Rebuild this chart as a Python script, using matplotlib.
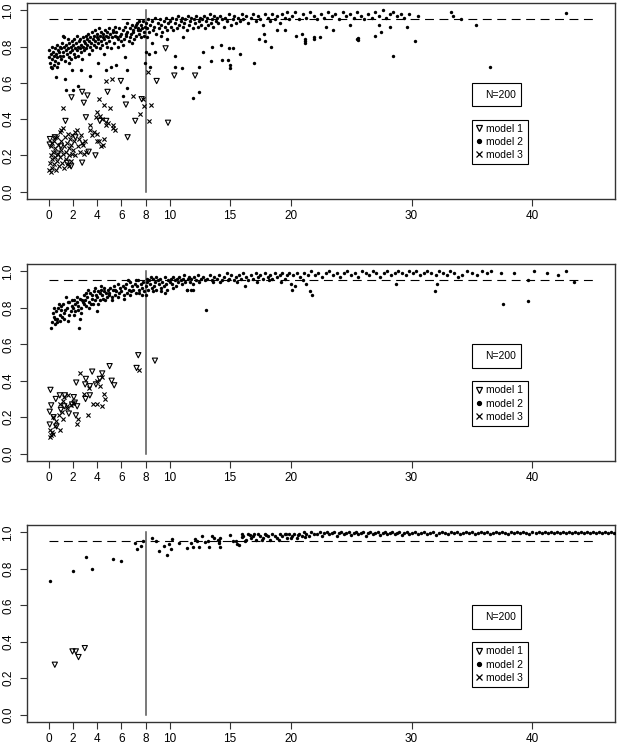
import matplotlib
matplotlib.use("Agg")
import matplotlib.pyplot as plt
from matplotlib.lines import Line2D
from matplotlib.patches import Rectangle
import numpy as np

plt.rcParams['font.family'] = ['Liberation Sans', 'DejaVu Sans']

# ---- data (x, y) ----
x_ticks = [0, 2, 4, 6, 8, 10, 15, 20, 30, 40]
y_ticks = [0.0, 0.2, 0.4, 0.6, 0.8, 1.0]
y_tick_labels = ["0.0", "0.2", "0.4", "0.6", "0.8", "1.0"]
legend_labels = ["model 1", "model 2", "model 3"]
n_label = "N=200"
target_level = 0.95
cutoff = 8

# panel 1
p1_model1 = [(0.08, 0.26), (0.1, 0.29), (0.5, 0.3), (1.0, 0.25), (1.5, 0.16), (1.85, 0.14),
             (1.38, 0.39), (1.88, 0.52), (2.76, 0.55), (3.2, 0.53), (2.9, 0.49), (3.07, 0.41),
             (2.76, 0.16), (3.86, 0.2), (4.22, 0.39), (4.86, 0.55), (4.75, 0.39), (5.96, 0.61),
             (6.38, 0.48), (6.52, 0.3), (7.15, 0.39), (7.68, 0.51), (8.92, 0.61), (9.86, 0.38),
             (10.38, 0.64), (12.1, 0.64), (9.66, 0.79), (3.3, 0.22), (2.2, 0.3), (0.7, 0.21)]

p1_model2 = [
    (0.0, 0.78), (0.05, 0.74), (0.1, 0.71), (0.15, 0.76), (0.2, 0.69), (0.25, 0.8), (0.3, 0.73),
    (0.35, 0.77), (0.4, 0.7), (0.45, 0.75), (0.5, 0.79), (0.55, 0.72), (0.6, 0.76), (0.65, 0.81),
    (0.7, 0.74), (0.75, 0.78), (0.8, 0.71), (0.85, 0.77), (0.9, 0.8), (0.95, 0.75), (0.3, 0.68),
    (0.7, 0.69),
    (1.0, 0.79), (1.05, 0.73), (1.1, 0.82), (1.15, 0.77), (1.2, 0.75), (1.25, 0.8), (1.3, 0.85),
    (1.35, 0.72), (1.4, 0.78), (1.45, 0.81), (1.5, 0.76), (1.55, 0.84), (1.6, 0.79), (1.65, 0.74),
    (1.7, 0.82), (1.75, 0.77), (1.8, 0.8), (1.85, 0.73), (1.9, 0.83), (1.95, 0.78), (1.2, 0.86),
    (1.7, 0.71),
    (2.0, 0.81), (2.05, 0.76), (2.1, 0.84), (2.15, 0.79), (2.2, 0.74), (2.25, 0.82), (2.3, 0.78),
    (2.35, 0.86), (2.4, 0.8), (2.45, 0.75), (2.5, 0.83), (2.55, 0.79), (2.6, 0.84), (2.65, 0.77),
    (2.7, 0.81), (2.75, 0.73), (2.8, 0.85), (2.85, 0.8), (2.9, 0.83), (2.95, 0.78),
    (3.0, 0.82), (3.05, 0.86), (3.1, 0.79), (3.15, 0.84), (3.2, 0.81), (3.25, 0.87), (3.3, 0.76),
    (3.35, 0.83), (3.4, 0.8), (3.45, 0.85), (3.5, 0.82), (3.55, 0.88), (3.6, 0.78), (3.65, 0.84),
    (3.7, 0.81), (3.75, 0.86), (3.8, 0.83), (3.85, 0.89), (3.9, 0.8), (3.95, 0.85),
    (4.0, 0.87), (4.05, 0.82), (4.1, 0.84), (4.15, 0.9), (4.2, 0.79), (4.25, 0.86), (4.3, 0.83),
    (4.35, 0.88), (4.4, 0.81), (4.45, 0.85), (4.5, 0.87), (4.55, 0.76), (4.6, 0.84), (4.65, 0.89),
    (4.7, 0.82), (4.75, 0.86), (4.8, 0.88), (4.85, 0.8), (4.9, 0.85), (4.95, 0.9),
    (5.0, 0.83), (5.1, 0.87), (5.2, 0.85), (5.3, 0.89), (5.4, 0.82), (5.5, 0.86), (5.6, 0.88),
    (5.7, 0.84), (5.8, 0.9), (5.9, 0.86), (5.15, 0.79), (5.45, 0.91), (5.75, 0.8), (5.95, 0.83),
    (5.35, 0.88), (5.65, 0.85),
    (6.0, 0.87), (6.1, 0.89), (6.2, 0.84), (6.3, 0.91), (6.4, 0.86), (6.5, 0.88), (6.6, 0.83),
    (6.7, 0.9), (6.8, 0.87), (6.9, 0.92), (6.15, 0.81), (6.45, 0.93), (6.75, 0.85), (6.95, 0.89),
    (6.35, 0.87), (6.85, 0.82),
    (7.0, 0.88), (7.1, 0.91), (7.2, 0.86), (7.3, 0.93), (7.4, 0.89), (7.5, 0.87), (7.6, 0.92),
    (7.7, 0.9), (7.8, 0.94), (7.9, 0.88), (7.05, 0.84), (7.35, 0.9), (7.65, 0.85), (7.95, 0.91),
    (7.25, 0.92), (7.55, 0.89), (7.85, 0.86), (7.45, 0.94),
    (8.0, 0.93), (8.1, 0.9), (8.2, 0.95), (8.3, 0.88), (8.4, 0.92), (8.5, 0.94), (8.6, 0.89),
    (8.7, 0.91), (8.8, 0.96), (8.9, 0.87), (9.0, 0.93), (9.1, 0.9), (9.2, 0.95), (9.3, 0.92),
    (9.4, 0.88), (9.5, 0.94), (9.6, 0.91), (9.7, 0.96), (9.8, 0.89), (9.9, 0.93), (8.15, 0.85),
    (8.55, 0.82), (9.25, 0.86), (9.75, 0.84),
    (10.0, 0.94), (10.1, 0.91), (10.2, 0.96), (10.3, 0.89), (10.4, 0.93), (10.5, 0.95), (10.6, 0.9),
    (10.7, 0.97), (10.8, 0.92), (10.9, 0.94), (11.0, 0.96), (11.1, 0.91), (11.2, 0.93), (11.3, 0.95),
    (11.4, 0.89), (11.5, 0.97), (11.6, 0.92), (11.7, 0.94), (11.8, 0.96), (11.9, 0.9),
    (12.0, 0.95), (12.1, 0.93), (12.2, 0.97), (12.3, 0.91), (12.4, 0.94), (12.5, 0.96), (12.6, 0.92),
    (12.7, 0.95), (12.8, 0.97), (12.9, 0.9), (13.0, 0.94), (13.1, 0.96), (13.2, 0.92), (13.3, 0.98),
    (13.4, 0.93), (13.5, 0.95), (13.6, 0.91), (13.7, 0.97), (13.8, 0.94), (13.9, 0.96),
    (14.0, 0.93), (14.15, 0.97), (14.3, 0.95), (14.45, 0.91), (14.6, 0.96), (14.75, 0.94),
    (14.9, 0.98), (15.05, 0.92), (15.2, 0.95), (15.35, 0.97), (15.5, 0.93), (15.65, 0.96),
    (15.8, 0.94), (15.95, 0.98),
    (16.1, 0.95), (16.3, 0.97), (16.5, 0.93), (16.7, 0.96), (16.9, 0.98), (17.1, 0.94), (17.3, 0.97),
    (17.5, 0.95), (17.7, 0.92), (17.9, 0.98), (18.1, 0.96), (18.3, 0.94), (18.5, 0.98), (18.7, 0.95),
    (18.9, 0.97), (19.1, 0.93), (19.3, 0.98), (19.5, 0.96), (19.7, 0.99), (19.9, 0.95),
    (20.1, 0.97), (20.4, 0.99), (20.7, 0.95), (21.0, 0.98), (21.3, 0.96), (21.6, 0.99), (21.9, 0.97),
    (22.2, 0.95), (22.5, 0.98), (22.8, 0.96), (23.1, 0.99), (23.4, 0.97), (23.7, 0.98), (24.0, 0.95),
    (24.3, 0.99), (24.6, 0.97), (24.9, 0.98), (25.2, 0.96), (25.5, 0.99), (25.8, 0.97), (26.1, 0.95),
    (26.4, 0.98), (26.7, 0.96), (27.0, 0.99), (27.3, 0.97), (27.6, 1.0), (27.9, 0.96), (28.2, 0.98),
    (28.5, 0.99), (28.8, 0.97), (29.1, 0.98), (29.4, 0.96), (29.8, 0.98), (30.5, 0.97),
    # stragglers below the band
    (0.58, 0.63), (1.38, 0.62), (1.41, 0.56), (1.98, 0.56), (2.43, 0.58), (1.93, 0.67), (2.7, 0.67),
    (3.4, 0.64), (4.03, 0.71), (4.72, 0.67), (5.14, 0.69), (5.53, 0.7), (6.16, 0.53), (6.43, 0.57),
    (6.27, 0.74), (6.47, 0.67), (7.98, 0.71), (8.34, 0.69), (8.29, 0.76), (8.05, 0.77), (8.8, 0.77),
    (10.44, 0.75), (10.44, 0.69), (11.05, 0.68), (11.12, 0.85), (11.96, 0.515), (12.45, 0.55),
    (12.45, 0.69), (12.72, 0.77), (13.42, 0.72), (13.47, 0.8), (14.3, 0.725), (14.25, 0.81),
    (14.85, 0.725), (14.93, 0.79), (15.0, 0.70), (15.0, 0.68), (15.2, 0.79), (15.82, 0.76),
    (16.93, 0.71), (17.4, 0.84), (17.81, 0.87), (17.84, 0.83), (18.4, 0.795), (18.86, 0.89),
    (19.5, 0.89), (20.46, 0.86), (20.9, 0.87), (21.15, 0.84), (21.15, 0.82), (21.9, 0.85),
    (21.2, 0.83), (21.9, 0.84), (22.4, 0.85), (22.9, 0.905), (23.5, 0.89), (24.9, 0.92),
    (25.5, 0.84), (25.6, 0.845), (25.55, 0.835), (27.0, 0.86), (27.5, 0.88), (27.3, 0.92),
    (28.2, 0.91), (28.5, 0.75), (29.6, 0.91), (30.3, 0.83),
    (33.3, 0.99), (33.4, 0.97), (34.1, 0.95), (35.3, 0.92), (36.5, 0.69), (42.8, 0.985)]

p1_model3 = [
    (0.0, 0.12), (0.1, 0.16), (0.15, 0.2), (0.2, 0.25), (0.25, 0.18), (0.3, 0.13), (0.35, 0.22),
    (0.4, 0.28), (0.45, 0.15), (0.5, 0.19), (0.55, 0.24), (0.6, 0.12), (0.65, 0.3), (0.7, 0.17),
    (0.75, 0.21), (0.8, 0.26), (0.85, 0.14), (0.9, 0.33), (0.95, 0.19), (1.0, 0.23), (1.05, 0.28),
    (1.1, 0.16), (1.15, 0.35), (1.2, 0.21), (1.25, 0.25), (1.3, 0.13), (1.35, 0.3), (1.4, 0.18),
    (1.45, 0.22), (1.5, 0.27), (1.55, 0.15), (1.6, 0.32), (1.65, 0.2), (1.7, 0.24), (1.75, 0.29),
    (1.8, 0.17), (1.85, 0.26), (1.9, 0.21), (1.95, 0.31), (2.0, 0.23), (2.1, 0.28), (2.2, 0.2),
    (2.3, 0.34), (2.4, 0.25), (2.5, 0.29), (2.6, 0.22), (2.7, 0.31), (2.8, 0.26), (2.9, 0.21),
    (3.0, 0.28), (0.2, 0.11), (0.5, 0.3), (1.0, 0.34), (0.3, 0.27), (1.7, 0.14), (2.2, 0.33),
    (1.2, 0.46), (3.4, 0.34), (3.45, 0.37), (3.9, 0.41), (4.0, 0.32), (4.0, 0.44), (4.14, 0.28),
    (3.95, 0.28), (4.14, 0.51), (4.22, 0.42), (4.4, 0.4), (4.55, 0.48), (4.6, 0.29), (4.72, 0.37),
    (4.72, 0.61), (4.9, 0.38), (5.04, 0.46), (5.2, 0.62), (5.28, 0.35), (5.34, 0.37), (5.45, 0.34),
    (3.75, 0.33), (3.6, 0.31), (4.3, 0.25), (4.5, 0.26), (6.93, 0.53), (7.55, 0.43), (7.82, 0.51),
    (7.87, 0.47), (8.2, 0.66), (8.45, 0.48), (8.26, 0.39), (3.1, 0.22), (2.75, 0.27)]

# panel 2
p2_model1 = [(7.4, 0.54), (7.26, 0.47), (8.78, 0.51), (5.03, 0.48), (3.59, 0.45), (4.42, 0.44),
             (4.22, 0.41), (5.2, 0.4), (5.41, 0.375), (2.27, 0.39), (3.07, 0.41), (3.4, 0.37),
             (3.01, 0.38), (3.4, 0.32), (3.9, 0.38), (0.14, 0.35), (0.2, 0.265), (0.08, 0.23),
             (0.58, 0.3), (0.91, 0.32), (1.33, 0.32), (1.66, 0.22), (2.07, 0.31), (2.15, 0.28),
             (1.93, 0.27), (2.35, 0.26), (3.04, 0.3), (2.24, 0.21), (1.28, 0.26), (0.64, 0.15),
             (0.08, 0.16), (1.0, 0.24), (0.4, 0.2)]

p2_model2 = [
    (0.2, 0.69), (0.3, 0.72), (0.4, 0.75), (0.5, 0.71), (0.6, 0.78), (0.7, 0.74), (0.8, 0.8),
    (0.9, 0.76), (0.35, 0.77), (0.65, 0.72), (0.85, 0.82), (0.95, 0.73), (0.45, 0.8), (0.55, 0.74),
    (1.0, 0.79), (1.1, 0.75), (1.2, 0.82), (1.3, 0.77), (1.4, 0.86), (1.5, 0.8), (1.6, 0.73),
    (1.7, 0.83), (1.8, 0.78), (1.9, 0.81), (1.05, 0.81), (1.35, 0.79), (1.65, 0.76), (1.95, 0.84),
    (1.25, 0.74), (1.55, 0.83),
    (2.0, 0.8), (2.1, 0.84), (2.2, 0.78), (2.3, 0.83), (2.4, 0.81), (2.5, 0.69), (2.6, 0.85),
    (2.7, 0.8), (2.8, 0.83), (2.9, 0.87), (2.05, 0.76), (2.35, 0.86), (2.65, 0.77), (2.95, 0.82),
    (2.15, 0.82), (2.45, 0.79), (2.75, 0.84), (2.55, 0.74),
    (3.0, 0.84), (3.1, 0.81), (3.2, 0.86), (3.3, 0.83), (3.4, 0.88), (3.5, 0.82), (3.6, 0.85),
    (3.7, 0.89), (3.8, 0.84), (3.9, 0.87), (3.05, 0.88), (3.35, 0.8), (3.65, 0.82), (3.95, 0.78),
    (3.25, 0.9), (3.55, 0.87), (3.85, 0.91),
    (4.0, 0.86), (4.1, 0.89), (4.2, 0.84), (4.3, 0.9), (4.4, 0.87), (4.5, 0.85), (4.6, 0.91),
    (4.7, 0.88), (4.8, 0.86), (4.9, 0.9), (4.05, 0.82), (4.35, 0.92), (4.65, 0.84), (4.95, 0.87),
    (4.25, 0.88), (4.55, 0.89),
    (5.0, 0.88), (5.1, 0.91), (5.2, 0.86), (5.3, 0.9), (5.4, 0.92), (5.5, 0.87), (5.6, 0.89),
    (5.7, 0.93), (5.8, 0.88), (5.9, 0.91), (5.25, 0.84), (5.75, 0.86), (5.45, 0.9),
    (6.0, 0.89), (6.1, 0.92), (6.2, 0.87), (6.3, 0.91), (6.4, 0.93), (6.5, 0.88), (6.6, 0.9),
    (6.7, 0.94), (6.8, 0.89), (6.9, 0.92), (7.0, 0.9), (7.1, 0.93), (7.2, 0.88), (7.3, 0.92),
    (7.4, 0.95), (7.5, 0.9), (7.6, 0.93), (7.7, 0.91), (7.8, 0.94), (7.9, 0.89), (6.25, 0.85),
    (6.75, 0.87), (7.25, 0.95), (7.75, 0.87), (6.55, 0.95), (7.45, 0.88),
    (8.0, 0.92), (8.1, 0.94), (8.2, 0.9), (8.3, 0.95), (8.4, 0.93), (8.5, 0.91), (8.6, 0.96),
    (8.7, 0.92), (8.8, 0.94), (8.9, 0.9), (9.0, 0.95), (9.1, 0.93), (9.2, 0.96), (9.3, 0.91),
    (9.4, 0.94), (9.5, 0.92), (9.6, 0.97), (9.7, 0.93), (9.8, 0.9), (9.9, 0.95), (8.05, 0.87),
    (8.45, 0.97), (8.85, 0.97), (9.25, 0.89), (9.65, 0.88), (8.15, 0.96), (8.65, 0.89),
    (10.0, 0.94), (10.1, 0.96), (10.2, 0.93), (10.3, 0.97), (10.4, 0.95), (10.5, 0.92), (10.6, 0.96),
    (10.7, 0.94), (10.8, 0.97), (10.9, 0.95), (11.0, 0.93), (11.1, 0.96), (11.2, 0.98), (11.3, 0.94),
    (11.4, 0.9), (11.5, 0.96), (11.6, 0.97), (11.7, 0.94), (11.8, 0.96), (11.9, 0.93), (12.0, 0.97),
    (12.15, 0.95), (12.3, 0.98), (12.45, 0.94), (12.6, 0.96), (12.75, 0.97), (12.9, 0.95),
    (10.25, 0.91), (11.95, 0.9),
    (13.1, 0.96), (13.3, 0.98), (13.5, 0.95), (13.7, 0.97), (13.9, 0.96), (14.1, 0.98), (14.3, 0.95),
    (14.5, 0.97), (14.7, 0.99), (14.9, 0.96), (15.1, 0.98), (15.3, 0.95), (15.5, 0.97), (15.7, 0.98),
    (15.9, 0.96), (16.1, 0.99), (16.3, 0.97), (16.5, 0.95), (16.7, 0.98), (16.9, 0.96), (17.1, 0.99),
    (17.3, 0.97), (17.5, 0.98), (17.7, 0.96), (17.9, 0.99), (18.1, 0.97), (18.3, 0.98), (18.5, 0.96),
    (18.7, 0.99), (18.9, 0.97), (19.1, 0.98), (19.3, 0.99), (19.5, 0.96), (19.7, 0.98), (19.9, 0.99),
    (13.0, 0.79), (16.2, 0.92), (11.4, 0.9), (11.8, 0.9), (14.2, 0.94), (15.6, 0.94), (17.2, 0.94),
    (18.2, 0.95), (19.2, 0.94), (20.0, 0.93), (21.0, 0.95), (13.6, 0.94), (14.8, 0.95),
    (20.1, 0.9), (20.4, 0.92), (21.3, 0.93), (21.6, 0.89), (21.8, 0.87), (20.2, 0.98), (20.5, 0.99),
    (20.8, 0.97), (21.1, 0.99), (21.4, 0.98), (21.7, 1.0), (22.0, 0.98), (22.3, 0.99), (22.6, 0.97),
    (22.9, 0.99), (23.2, 1.0), (23.5, 0.98), (23.8, 0.99), (24.1, 0.97), (24.4, 0.99), (24.7, 1.0),
    (25.0, 0.98), (25.3, 0.99), (25.6, 0.97), (25.9, 1.0), (26.2, 0.99), (26.5, 0.98), (26.8, 1.0),
    (27.1, 0.99), (27.4, 0.97), (27.7, 0.99), (28.0, 1.0), (28.3, 0.98), (28.6, 0.99), (28.7, 0.93),
    (28.9, 1.0), (29.2, 0.99), (29.5, 0.98), (29.8, 1.0),
    (30.1, 0.99), (30.4, 1.0), (30.7, 0.98), (31.0, 0.99), (31.3, 1.0), (31.6, 0.99), (31.9, 0.89),
    (32.1, 0.93), (32.0, 0.98), (32.3, 1.0), (32.6, 0.99), (32.9, 0.98), (33.2, 1.0), (33.5, 0.99),
    (33.8, 0.97), (34.2, 0.98), (34.6, 1.0), (35.0, 0.99), (35.4, 0.98), (35.8, 1.0), (36.2, 0.99),
    (36.6, 1.0), (37.4, 0.99), (37.6, 0.82), (38.5, 0.99), (39.6, 0.835), (39.6, 0.955),
    (40.1, 1.0), (41.2, 0.99), (42.1, 0.98), (42.75, 1.0), (43.4, 0.94)]

p2_model3 = [(2.57, 0.44), (1.8, 0.265), (2.3, 0.165), (2.4, 0.19), (3.23, 0.21), (3.67, 0.27),
             (3.95, 0.27), (4.42, 0.26), (4.64, 0.3), (4.6, 0.33), (4.2, 0.37), (3.95, 0.4),
             (2.9, 0.33), (0.91, 0.27), (1.19, 0.29), (1.47, 0.26), (1.6, 0.32), (0.91, 0.13),
             (0.36, 0.11), (0.08, 0.09), (0.14, 0.13), (0.5, 0.15), (0.86, 0.21), (1.19, 0.19),
             (1.47, 0.25), (0.36, 0.2), (7.5, 0.46), (0.25, 0.12), (0.6, 0.18), (1.1, 0.23),
             (2.0, 0.28), (4.4, 0.42), (3.3, 0.36), (0.2, 0.1), (1.3, 0.31)]

# panel 3
p3_model1 = [(0.5, 0.274), (1.96, 0.347), (2.24, 0.347), (2.46, 0.316), (2.98, 0.365)]

p3_model2 = [
    (0.08, 0.735), (2.04, 0.79), (3.07, 0.867), (3.54, 0.8), (5.3, 0.856), (6.0, 0.843),
    (7.15, 0.94), (7.26, 0.907), (7.65, 0.925), (7.76, 0.955), (8.56, 0.967), (8.87, 0.955),
    (9.14, 0.9), (9.56, 0.927), (9.75, 0.876), (9.94, 0.934), (10.08, 0.907), (10.16, 0.962),
    (10.77, 0.943), (11.4, 0.912), (11.76, 0.94), (11.9, 0.92), (12.09, 0.962), (12.25, 0.95),
    (12.43, 0.92), (12.65, 0.98), (12.9, 0.945), (13.2, 0.95), (13.28, 0.92), (13.48, 0.98),
    (13.7, 0.97), (14.0, 0.96), (14.08, 0.94), (14.14, 0.92), (14.1, 0.95), (14.2, 0.97),
    (15.0, 0.985), (15.2, 0.955), (15.5, 0.95), (15.6, 0.936), (15.7, 0.93), (15.96, 0.976),
    (16.1, 0.98), (16.3, 0.96), (16.5, 0.99), (16.7, 0.97), (16.9, 0.98), (17.1, 0.96),
    (17.3, 0.99), (17.5, 0.98), (17.7, 0.97), (17.9, 0.99), (18.1, 0.98), (18.3, 0.96),
    (18.5, 0.99), (18.7, 0.98), (18.9, 0.97), (19.1, 0.99), (19.3, 0.98), (19.5, 0.99),
    (19.7, 0.97), (19.9, 0.99), (20.1, 0.98), (20.3, 0.99), (20.5, 0.97), (20.7, 0.99),
    (20.9, 0.98), (21.1, 1.0), (21.3, 0.99), (21.5, 0.98), (21.7, 1.0), (21.9, 0.99),
    (16.2, 0.95), (17.6, 0.96), (19.0, 0.96), (20.0, 0.97), (16.0, 0.99), (16.6, 0.985),
    (17.0, 0.99), (18.0, 0.985), (19.6, 0.99), (20.6, 0.985), (21.2, 0.975),
    (22.2, 0.99), (22.4, 1.0), (22.6, 0.98), (22.8, 0.995), (23.0, 1.0), (23.2, 0.99),
    (23.4, 0.995), (23.6, 1.0), (23.8, 0.98), (24.0, 0.995), (24.2, 1.0), (24.4, 0.99),
    (24.6, 0.995), (24.8, 1.0), (25.0, 0.985), (25.2, 0.995), (25.4, 1.0), (25.6, 0.99),
    (25.8, 0.995), (26.0, 1.0), (26.2, 0.98), (26.4, 0.995), (26.6, 1.0), (26.8, 0.99),
    (27.0, 0.995), (27.2, 1.0), (27.4, 0.985), (27.6, 0.995), (27.8, 1.0), (28.0, 0.99),
    (28.2, 0.995), (28.4, 1.0), (28.6, 0.99), (28.8, 0.995), (29.0, 1.0), (29.2, 0.985),
    (29.4, 0.995), (29.6, 1.0), (29.8, 0.99), (30.0, 0.995), (30.25, 1.0), (30.5, 0.99),
    (30.75, 0.995), (31.0, 1.0), (31.25, 0.99), (31.5, 0.995), (31.75, 1.0), (32.0, 0.985),
    (32.25, 0.995), (32.5, 1.0), (32.75, 0.995), (33.0, 0.99), (33.25, 1.0), (33.5, 0.995),
    (33.75, 1.0), (34.0, 0.99), (34.25, 0.995), (34.5, 1.0), (34.75, 0.995), (35.0, 1.0),
    (35.25, 0.99), (35.5, 0.995), (35.75, 1.0), (36.0, 0.995), (36.25, 1.0), (36.5, 0.99),
    (36.75, 0.995), (37.0, 1.0), (37.25, 0.995), (37.5, 1.0), (37.75, 0.995), (38.0, 0.99),
    (38.25, 1.0), (38.5, 0.995), (38.75, 1.0), (39.0, 0.995), (39.25, 1.0), (39.5, 0.995),
    (39.75, 0.99), (40.0, 1.0), (40.25, 0.995), (40.5, 1.0), (40.75, 0.995), (41.0, 1.0),
    (41.25, 0.995), (41.5, 1.0), (41.75, 0.995), (42.0, 1.0), (42.25, 0.995), (42.5, 1.0),
    (42.75, 0.995), (43.0, 1.0), (43.25, 0.995), (43.5, 1.0), (43.75, 0.995), (44.0, 1.0),
    (44.25, 0.995), (44.5, 1.0), (44.75, 0.995), (45.0, 1.0), (45.25, 0.995), (45.5, 1.0),
    (45.75, 0.995), (46.0, 1.0), (46.25, 0.995), (46.5, 1.0), (46.75, 0.995)]

p3_model3 = []

panels = [(p1_model1, p1_model2, p1_model3),
          (p2_model1, p2_model2, p2_model3),
          (p3_model1, p3_model2, p3_model3)]

# axes positions in figure fractions (left, bottom, width, height)
axes_boxes = [(0.0437, 0.7347, 0.951, 0.2613),
              (0.0437, 0.3853, 0.951, 0.2627),
              (0.0437, 0.0373, 0.951, 0.2627)]

edge = '#333333'


def xy(points):
    if len(points) == 0:
        return np.array([]), np.array([])
    arr = np.array(points, dtype=float)
    return arr[:, 0], arr[:, 1]


fig = plt.figure(figsize=(6.18, 7.5), dpi=100)

for box, (m1, m2, m3) in zip(axes_boxes, panels):
    ax = fig.add_axes(box)
    ax.set_xlim(-1.8, 46.8)
    ax.set_ylim(-0.04, 1.04)

    # reference lines
    ax.plot([0, 45], [target_level, target_level], color='black', lw=0.8,
            dashes=(8, 5), zorder=1)
    ax.plot([cutoff, cutoff], [0, 1], color='#555555', lw=1.1, zorder=1)

    x1, y1 = xy(m1)
    x2, y2 = xy(m2)
    x3, y3 = xy(m3)
    ax.scatter(x2, y2, s=6, marker='o', color='black', linewidths=0, zorder=3)
    ax.scatter(x1, y1, s=14, marker='v', facecolors='none', edgecolors='black',
               linewidths=0.8, zorder=3)
    if len(x3):
        ax.scatter(x3, y3, s=9, marker='x', color='black', linewidths=0.8, zorder=3)

    ax.set_xticks(x_ticks)
    ax.set_yticks(y_ticks)
    ax.set_yticklabels(y_tick_labels, rotation=90, va='center')
    ax.tick_params(direction='out', length=5, width=0.8, color=edge,
                   labelsize=8.5, pad=3)
    ax.tick_params(axis='y', pad=4)
    for sp in ax.spines.values():
        sp.set_color(edge)
        sp.set_linewidth(1.0)

    # N box
    ax.add_patch(Rectangle((0.757, 0.474), 0.083, 0.118, transform=ax.transAxes,
                           facecolor='white', edgecolor='black', lw=0.8, zorder=5))
    ax.text(0.832, 0.533, n_label, transform=ax.transAxes, ha='right', va='center',
            fontsize=7.5, zorder=6)

    # model legend
    handles = [Line2D([], [], ls='none', marker='v', markersize=4.5, markerfacecolor='none',
                      markeredgecolor='black', markeredgewidth=0.9),
               Line2D([], [], ls='none', marker='o', markersize=2.8, color='black'),
               Line2D([], [], ls='none', marker='x', markersize=4, color='black',
                      markeredgewidth=0.9)]
    leg = ax.legend(handles, legend_labels, loc='upper left', bbox_to_anchor=(0.757, 0.405),
                    borderaxespad=0, frameon=True, fancybox=False, framealpha=1,
                    edgecolor='black', fontsize=7.5, handlelength=0.6, handletextpad=0.4,
                    labelspacing=0.3, borderpad=0.4)
    leg.get_frame().set_linewidth(0.8)

fig.savefig('out.png', dpi=100)
